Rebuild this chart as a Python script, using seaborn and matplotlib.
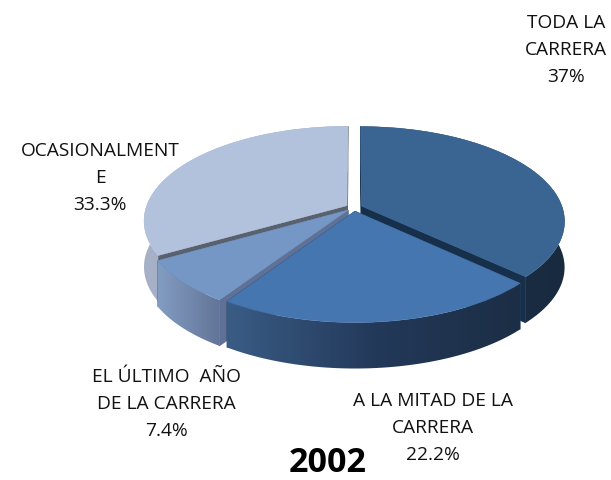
import numpy as np
import matplotlib
matplotlib.use("Agg")
import matplotlib.pyplot as plt
from matplotlib.patches import Polygon
from matplotlib.transforms import Transform
from matplotlib.colors import to_rgb
import seaborn as sns

categories = ["TODA LA\nCARRERA", "A LA MITAD DE LA\nCARRERA",
              "EL ÚLTIMO  AÑO\nDE LA CARRERA", "OCASIONALMENT\nE"]
values = [37, 22.2, 7.4, 33.3]
value_labels = ["37%", "22.2%", "7.4%", "33.3%"]
title = "2002"

top_colors = ["#3A6592", "#4676B0", "#7597C5", "#B3C2DC"]
side_colors = [["#1E3550", "#182A3E"], ["#3A5C85", "#23395A", "#1C2E45"],
               ["#839CC2", "#627598"], ["#A7B2C8", "#8F9CB4"]]
cut_colors = ["#16304C", "#2A4060", "#5F7196", "#59616F"]
label_xy = [(566, 50), (433, 428), (166, 404), (100, 178)]

CX, CY, RX, A, B = 354.0, 207.5, 201.0, 92.5, 0.1575
DEPTH = 46.0


class Perspective(Transform):
    input_dims = output_dims = 2

    def transform_non_affine(self, xy):
        xy = np.asarray(xy, float)
        w = 1 + B * xy[:, 1]
        return np.column_stack([CX + RX * xy[:, 0] / w, CY - A * xy[:, 1] / w])


sns.set_theme(style="white")
plt.rcParams["font.family"] = ["Open Sans", "DejaVu Sans"]
fig = plt.figure(figsize=(6.11, 4.8), dpi=100)
ax = fig.add_axes([0, 0, 1, 1])
wedges, _ = ax.pie(values, colors=top_colors, startangle=90, counterclock=False,
                   explode=[0.04] * len(values), radius=1.0)

P = Perspective()
# back to front: first, last, third, second slice
for z, i in enumerate([0, 3, 2, 1]):
    w = wedges[i]
    c = np.array(w.center)
    th = np.radians(np.linspace(w.theta1, w.theta2, 120))
    arc = P.transform(c + np.column_stack([np.cos(th), np.sin(th)]))
    low = arc + [0, DEPTH]
    apex = P.transform(c[None, :])[0]
    base = 10 + 3 * z
    # flat cut faces
    for tip in (arc[0], arc[-1]):
        ax.add_patch(Polygon([apex, tip, tip + [0, DEPTH], apex + [0, DEPTH]],
                             closed=True, fc=cut_colors[i], ec=cut_colors[i],
                             lw=0.5, zorder=base))
    # curved rim: a left-to-right gradient image clipped to the rim outline
    pal = np.array([to_rgb(col) for col in sns.blend_palette(side_colors[i], 128)])
    x0, x1 = arc[:, 0].min(), arc[:, 0].max()
    y0, y1 = arc[:, 1].min(), low[:, 1].max()
    im = ax.imshow(pal[None, :, :], extent=(x0, x1, y1, y0), aspect="auto",
                   interpolation="bilinear", zorder=base + 1)
    rim = Polygon(np.vstack([arc, low[::-1]]), closed=True, transform=ax.transData,
                  fc="none", ec="none")
    ax.add_patch(rim)
    im.set_clip_path(rim)
    w.set_transform(P + ax.transData)
    w.set_zorder(base + 2)
    w.set_edgecolor(top_colors[i])
    w.set_linewidth(0.3)

ax.set_aspect("auto")
ax.set_xlim(0, 611)
ax.set_ylim(480, 0)
ax.axis("off")

for cat, val, (x, y) in zip(categories, value_labels, label_xy):
    ax.text(x, y, f"{cat}\n{val}", ha="center", va="center", fontsize=13.8,
            color="#111111", linespacing=1.62, zorder=40)
ax.text(328, 463.5, title, ha="center", va="center", fontsize=24.5,
        fontweight="bold", color="black", zorder=40)
fig.savefig("out.png", dpi=100, facecolor="white")
